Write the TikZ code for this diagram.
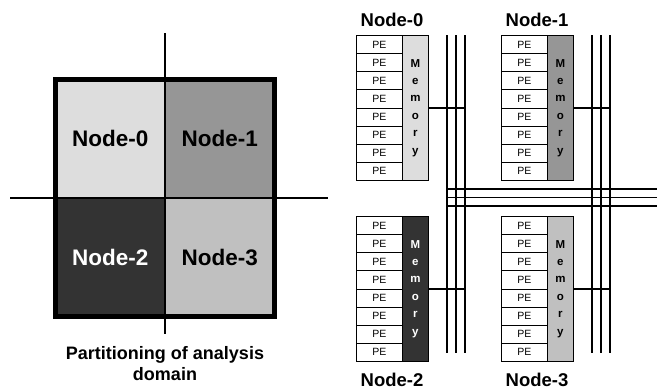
\documentclass[tikz,border=0pt]{standalone}
\usepackage{fontspec}
\setmainfont{Liberation Sans}
\definecolor{cLight}{HTML}{DDDDDD}
\definecolor{cMid}{HTML}{969696}
\definecolor{cDark}{HTML}{333333}
\definecolor{cSilver}{HTML}{C0C0C0}
\newcommand\myblock[5]{%
  \foreach \i in {1,...,8} {\node[pecell] (#1pe\i) at (#2, {#3+(\i-1)*18.125}) {PE};}
  \node[memcell, fill=#4, text=#5] (#1mem) at (#2+46, #3) {M\\e\\m\\o\\r\\y};
}
\begin{document}
\begin{tikzpicture}[x=1pt,y=-1pt,
  pecell/.style={draw, line width=0.8pt, minimum width=46pt, minimum height=18.125pt, inner sep=0pt, anchor=north west, font=\fontsize{10.5}{12}\selectfont},
  memcell/.style={draw, line width=0.8pt, minimum width=26pt, minimum height=145pt, inner sep=0pt, anchor=north west, align=center, font=\bfseries\fontsize{11.5}{17.4}\selectfont},
  bus/.style={line width=1.6pt},
  conn/.style={line width=1.2pt},
  blabel/.style={inner sep=1pt, font=\bfseries\fontsize{18.5}{20}\selectfont},
  quad/.style={minimum width=109.5pt, minimum height=118.5pt, inner sep=0pt, font=\bfseries\fontsize{22.5}{24}\selectfont},
  divider/.style={line width=1.1pt}
]
\useasboundingbox (0,0) rectangle (657,389);
% ---------- left panel ----------
\node[quad, fill=cLight] (q0) at (110.25,138.75) {Node-0};
\node[quad, fill=cMid] (q1) at (219.75,138.75) {Node-1};
\node[quad, fill=cDark, text=white] (q2) at (110.25,257.25) {Node-2};
\node[quad, fill=cSilver] (q3) at (219.75,257.25) {Node-3};
\coordinate (hl) at (10,198);
\coordinate (hr) at (328,198);
\coordinate (vt) at (165,33);
\coordinate (vb) at (165,334);
\draw[divider] (hl) -- (hr);
\draw[divider] (vt) -- (vb);
\draw[line width=5pt] (q0.north west) rectangle (q3.south east);
\node[align=center, font=\bfseries\fontsize{18}{21}\selectfont] (cap) at (165,364) {Partitioning of analysis\\domain};
% ---------- right panel ----------
\myblock{a}{356}{35}{cLight}{black}
\myblock{b}{501}{35}{cMid}{black}
\myblock{c}{356}{216}{cDark}{white}
\myblock{d}{501}{216}{cSilver}{black}
\node[blabel] (la) at (392,20) {Node-0};
\node[blabel] (lb) at (537,20) {Node-1};
\node[blabel] (lc) at (392,380) {Node-2};
\node[blabel] (ld) at (537,380) {Node-3};
% vertical buses
\foreach \n/\x in {L1/446.7,L2/455.7,L3/464.7,R1/592,R2/601,R3/610} {
  \coordinate (\n t) at (\x,35);
  \coordinate (\n b) at (\x,352.7);
  \draw[bus] (\n t) -- (\n b);
}
% horizontal buses
\foreach \n/\y in {H1/189,H2/197.3,H3/206} {
  \coordinate (\n l) at (446.7,\y);
  \coordinate (\n r) at (657,\y);
  \draw[bus] (\n l) -- (\n r);
}
% memory connectors
\draw[conn] (amem.east) -- (amem.east -| L3t);
\draw[conn] (bmem.east) -- (bmem.east -| R3t);
\draw[conn] (cmem.east) -- (cmem.east -| L3t);
\draw[conn] (dmem.east) -- (dmem.east -| R3t);
\end{tikzpicture}
\end{document}
